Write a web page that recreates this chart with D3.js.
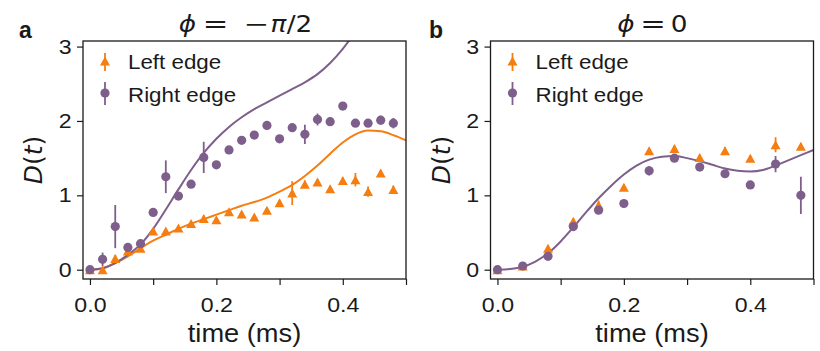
<!DOCTYPE html>
<html>
<head>
<meta charset="utf-8">
<script src="https://cdn.jsdelivr.net/npm/d3@7"></script>
<style>
  html, body { margin: 0; padding: 0; background: #ffffff; }
  svg { display: block; }
  text { font-family: "Liberation Sans", Arial, Helvetica, sans-serif; fill: #1a1a1a; }
  .math { font-family: "DejaVu Sans", sans-serif; }
</style>
</head>
<body>
<svg id="chart" width="820" height="351"></svg>
<script>
// ---- measured data, panel a (phi = -pi/2) ----
const timesA = [0, 0.02, 0.04, 0.06, 0.08, 0.10, 0.12, 0.14, 0.16, 0.18, 0.20, 0.22, 0.24,
                0.26, 0.28, 0.30, 0.32, 0.34, 0.36, 0.38, 0.40, 0.42, 0.44, 0.46, 0.48];
const leftA = [0, 0.0, 0.15, 0.25, 0.29, 0.52, 0.52, 0.56, 0.62, 0.69, 0.67, 0.78, 0.75,
               0.71, 0.80, 0.90, 1.03, 1.15, 1.18, 1.09, 1.20, 1.21, 1.05, 1.30, 1.08];
const leftAErr = [0.02, 0.03, 0.05, 0.03, 0.03, 0.04, 0.03, 0.03, 0.03, 0.04, 0.03, 0.03, 0.03,
                  0.03, 0.03, 0.04, 0.16, 0.05, 0.04, 0.04, 0.04, 0.09, 0.07, 0.04, 0.05];
const rightA = [0, 0.14, 0.58, 0.30, 0.35, 0.77, 1.25, 0.99, 1.15, 1.51, 1.41, 1.61, 1.74,
                1.81, 1.94, 1.76, 1.91, 1.82, 2.02, 1.99, 2.20, 1.97, 1.97, 2.01, 1.97];
const rightAErr = [0.02, 0.09, 0.29, 0.04, 0.05, 0.05, 0.22, 0.05, 0.05, 0.21, 0.05, 0.04, 0.04,
                   0.04, 0.05, 0.04, 0.05, 0.13, 0.08, 0.05, 0.04, 0.05, 0.05, 0.06, 0.07];

// model curves, panel a
const curveTimesA = [0, 0.02, 0.04, 0.06, 0.08, 0.10, 0.12, 0.14, 0.16, 0.18, 0.20, 0.22, 0.24,
                     0.26, 0.28, 0.30, 0.32, 0.34, 0.36, 0.38, 0.40, 0.42, 0.44, 0.46, 0.48, 0.50];
const curveLeftA = [0, 0.02, 0.09, 0.18, 0.29, 0.39, 0.47, 0.55, 0.62, 0.68, 0.74, 0.80, 0.86,
                    0.91, 0.97, 1.05, 1.14, 1.26, 1.40, 1.56, 1.71, 1.82, 1.87, 1.86, 1.81, 1.74];
const curveRightA = [0, 0.02, 0.09, 0.20, 0.34, 0.55, 0.81, 1.08, 1.34, 1.57, 1.76, 1.92, 2.05,
                     2.16, 2.25, 2.34, 2.43, 2.52, 2.63, 2.78, 2.97, 3.20, 3.45, 3.70, 3.95, 4.20];

// ---- measured data, panel b (phi = 0) ----
const timesB = [0, 0.04, 0.08, 0.12, 0.16, 0.20, 0.24, 0.28, 0.32, 0.36, 0.40, 0.44, 0.48];
const leftB = [0, 0.05, 0.29, 0.65, 0.87, 1.11, 1.60, 1.63, 1.51, 1.60, 1.50, 1.68, 1.66];
const leftBErr = [0.02, 0.03, 0.04, 0.04, 0.06, 0.04, 0.04, 0.04, 0.04, 0.05, 0.04, 0.10, 0.04];
const rightB = [0, 0.05, 0.18, 0.58, 0.80, 0.89, 1.33, 1.50, 1.38, 1.29, 1.14, 1.42, 1.00];
const rightBErr = [0.02, 0.03, 0.03, 0.03, 0.04, 0.03, 0.06, 0.03, 0.04, 0.03, 0.03, 0.11, 0.25];

// model curve, panel b
const curveTimesB = [0, 0.02, 0.04, 0.06, 0.08, 0.10, 0.12, 0.14, 0.16, 0.18, 0.20, 0.22, 0.24,
                     0.26, 0.28, 0.30, 0.32, 0.34, 0.36, 0.38, 0.40, 0.42, 0.44, 0.46, 0.48, 0.50];
const curveB = [0, 0.01, 0.04, 0.11, 0.22, 0.38, 0.57, 0.77, 0.96, 1.13, 1.28, 1.40, 1.48,
                1.52, 1.53, 1.50, 1.46, 1.41, 1.36, 1.33, 1.32, 1.34, 1.40, 1.47, 1.54, 1.61];

// ---- axes ----
const xTicks = [0, 0.1, 0.2, 0.3, 0.4, 0.5];
const xTickLabels = ["0.0", "", "0.2", "", "0.4", ""];
const yTicks = [0, 1, 2, 3];
const yTickLabels = ["0", "1", "2", "3"];
const xDomain = [-0.011, 0.5];
const yDomain = [-0.125, 3.075];
const seriesNames = ["Left edge", "Right edge"];
const xLabel = "time (ms)";

const ORANGE = "#f67d10";
const PURPLE = "#7e5f8c";
const INK = "#1a1a1a";
const SANS = "Liberation Sans, Arial, sans-serif";

const svg = d3.select("#chart");

function trianglePath(w, h) {
  return `M0,${-h / 2}L${w / 2},${h / 2}L${-w / 2},${h / 2}Z`;
}

// text widened slightly along x, anchored at (x, y)
function wideText(parent, x, y, size, sx, anchor) {
  return parent.append("text")
    .attr("transform", `translate(${x},${y}) scale(${sx},1)`)
    .attr("font-size", size)
    .attr("text-anchor", anchor || "start");
}

function drawPanel(opts) {
  const { left, top, width, height, id } = opts;
  const x = d3.scaleLinear().domain(xDomain).range([left, left + width]);
  const y = d3.scaleLinear().domain(yDomain).range([top + height, top]);
  const g = svg.append("g");
  const cx = left + width / 2;

  svg.append("clipPath").attr("id", "clip-" + id)
    .append("rect").attr("x", left).attr("y", top).attr("width", width).attr("height", height);

  // axes
  const xAxis = d3.axisBottom(x).tickValues(xTicks)
    .tickFormat((d, i) => xTickLabels[i]).tickSizeInner(6).tickSizeOuter(0).tickPadding(12);
  const gx = g.append("g").attr("transform", `translate(0,${top + height})`).call(xAxis);
  gx.select(".domain").remove();
  gx.selectAll(".tick line").attr("stroke", INK).attr("stroke-width", 1.2);
  gx.selectAll(".tick text").attr("font-size", 20.5).attr("fill", INK)
    .attr("font-family", SANS).attr("transform", "scale(1.13,1)");

  const yAxis = d3.axisLeft(y).tickValues(yTicks)
    .tickFormat((d, i) => yTickLabels[i]).tickSizeInner(6).tickSizeOuter(0).tickPadding(4);
  const gy = g.append("g").attr("transform", `translate(${left},0)`).call(yAxis);
  gy.select(".domain").remove();
  gy.selectAll(".tick line").attr("stroke", INK).attr("stroke-width", 1.2);
  gy.selectAll(".tick text").attr("font-size", 20.5).attr("fill", INK)
    .attr("font-family", SANS).attr("transform", "scale(1.13,1)");

  // model curves
  const line = d3.line().x(d => x(d[0])).y(d => y(d[1])).curve(d3.curveMonotoneX);
  const plot = g.append("g").attr("clip-path", `url(#clip-${id})`);
  opts.curves.forEach(c => {
    plot.append("path")
      .datum(c.t.map((t, i) => [t, c.v[i]]))
      .attr("d", line).attr("fill", "none")
      .attr("stroke", c.color).attr("stroke-width", 2);
  });

  // left-edge points (triangles with error bars)
  const tri = trianglePath(10, 9);
  const L = opts.left_pts;
  const lg = plot.append("g");
  lg.selectAll("line").data(L.t).join("line")
    .attr("x1", d => x(d)).attr("x2", d => x(d))
    .attr("y1", (d, i) => y(L.v[i] - L.e[i])).attr("y2", (d, i) => y(L.v[i] + L.e[i]))
    .attr("stroke", ORANGE).attr("stroke-width", 1.8);
  lg.selectAll("path").data(L.t).join("path")
    .attr("d", tri)
    .attr("transform", (d, i) => `translate(${x(d)},${y(L.v[i])})`)
    .attr("fill", ORANGE);

  // right-edge points (circles with error bars)
  const R = opts.right_pts;
  const rg = plot.append("g");
  rg.selectAll("line").data(R.t).join("line")
    .attr("x1", d => x(d)).attr("x2", d => x(d))
    .attr("y1", (d, i) => y(R.v[i] - R.e[i])).attr("y2", (d, i) => y(R.v[i] + R.e[i]))
    .attr("stroke", PURPLE).attr("stroke-width", 1.8);
  rg.selectAll("circle").data(R.t).join("circle")
    .attr("cx", d => x(d)).attr("cy", (d, i) => y(R.v[i]))
    .attr("r", 4.6).attr("fill", PURPLE);

  // frame
  g.append("rect").attr("x", left).attr("y", top).attr("width", width).attr("height", height)
    .attr("fill", "none").attr("stroke", INK).attr("stroke-width", 1.3);

  // legend
  const lx = left + 22;
  const leg = g.append("g");
  leg.append("line").attr("x1", lx).attr("x2", lx).attr("y1", top + 12).attr("y2", top + 30)
    .attr("stroke", ORANGE).attr("stroke-width", 1.8);
  leg.append("path").attr("d", tri).attr("transform", `translate(${lx},${top + 20})`).attr("fill", ORANGE);
  wideText(leg, lx + 23, top + 27.5, 20.5, 1.09).text(seriesNames[0]);
  leg.append("line").attr("x1", lx).attr("x2", lx).attr("y1", top + 41).attr("y2", top + 64)
    .attr("stroke", PURPLE).attr("stroke-width", 1.8);
  leg.append("circle").attr("cx", lx).attr("cy", top + 52).attr("r", 4.6).attr("fill", PURPLE);
  wideText(leg, lx + 23, top + 60.5, 20.5, 1.09).text(seriesNames[1]);

  // axis labels
  wideText(g, cx, 342, 25, 1.09, "middle").text(xLabel);

  const yl = g.append("text").attr("class", "math")
    .attr("transform", `translate(${left - 41},${top + height / 2}) rotate(-90)`)
    .attr("text-anchor", "middle").attr("font-size", 25);
  yl.append("tspan").attr("font-style", "italic").text("D");
  yl.append("tspan").text("(");
  yl.append("tspan").attr("font-style", "italic").text("t");
  yl.append("tspan").text(")");

  // title, set piece by piece as in typeset math
  opts.title.forEach(p => {
    const t = g.append("text").attr("class", "math")
      .attr("transform", `translate(${cx + p.dx},32) scale(${p.sx || 1.12},1)`)
      .attr("font-size", 23.5).attr("text-anchor", "middle").text(p.s);
    if (p.it) t.attr("font-style", "italic");
  });

  // panel letter
  g.append("text").attr("x", opts.letterX).attr("y", 37.5).attr("font-size", 23)
    .attr("font-weight", "bold").attr("font-family", SANS).text(opts.letter);
}

drawPanel({
  id: "a", left: 83, top: 41, width: 323, height: 238, letter: "a", letterX: 19,
  title: [
    { s: "ϕ", it: true, dx: -57 },
    { s: "=", dx: -29, sx: 1.3 },
    { s: "−", dx: 12, sx: 1.3 },
    { s: "π", it: true, dx: 34 },
    { s: "/2", dx: 55 }
  ],
  curves: [
    { t: curveTimesA, v: curveLeftA, color: ORANGE },
    { t: curveTimesA, v: curveRightA, color: PURPLE }
  ],
  left_pts: { t: timesA, v: leftA, e: leftAErr },
  right_pts: { t: timesA, v: rightA, e: rightAErr }
});

drawPanel({
  id: "b", left: 490.5, top: 41, width: 323, height: 238, letter: "b", letterX: 429,
  title: [
    { s: "ϕ", it: true, dx: -26 },
    { s: "=", dx: 1, sx: 1.3 },
    { s: "0", dx: 27 }
  ],
  curves: [
    { t: curveTimesB, v: curveB, color: PURPLE }
  ],
  left_pts: { t: timesB, v: leftB, e: leftBErr },
  right_pts: { t: timesB, v: rightB, e: rightBErr }
});
</script>
</body>
</html>
